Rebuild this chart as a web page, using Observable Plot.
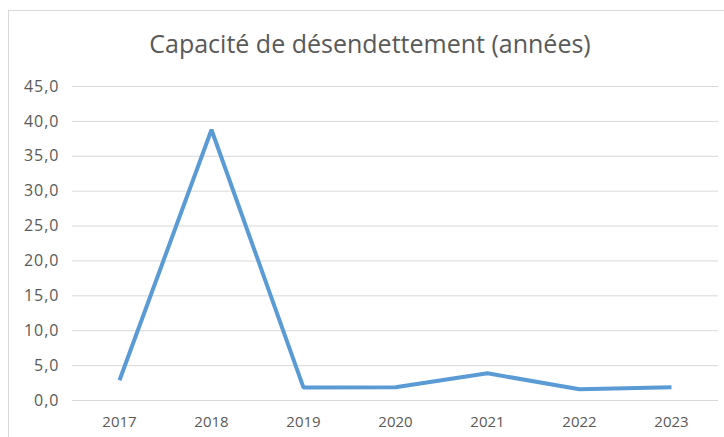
<!DOCTYPE html>
<html><head><meta charset="utf-8">
<script src="https://cdn.jsdelivr.net/npm/d3@7"></script>
<script src="https://cdn.jsdelivr.net/npm/@observablehq/plot@0.6"></script>
<style>
body{margin:0;background:#fff;font-family:"Open Sans",sans-serif;}
#wrap{position:relative;width:724px;height:437px;overflow:hidden;}
#frame{position:absolute;left:8px;top:10px;width:730px;height:440px;border:1.5px solid #d9d9d9;box-sizing:border-box;}
#title{position:absolute;left:0;top:0;width:740px;height:70px;line-height:87px;text-align:center;font-size:25px;color:#595959;font-weight:400;white-space:nowrap;}
#chart{position:absolute;left:0;top:70px;}
.yax text{letter-spacing:1px;}
</style></head>
<body><div id="wrap"><div id="frame"></div><div id="title">Capacité de désendettement (années)</div><div id="chart"></div></div>
<script>
const years = ["2017","2018","2019","2020","2021","2022","2023"];
const values = [2.9, 38.8, 1.85, 1.9, 3.9, 1.6, 1.9];
const yTicks = [0,5,10,15,20,25,30,35,40,45];
const data = years.map((y,i)=>({year:y, value:values[i]}));
const fmt = d=>d.toFixed(1).replace(".",",");
const plot = Plot.plot({
  width:724, height:367,
  marginTop:16, marginBottom:37, marginLeft:72, marginRight:6,
  style:{fontFamily:"Open Sans, sans-serif", fontSize:"16px", color:"#595959", background:"transparent"},
  x:{type:"point", domain:years, padding:0.5, label:null},
  y:{domain:[0,45], label:null},
  marks:[
    Plot.gridY(yTicks,{stroke:"#d9d9d9", strokeOpacity:1, strokeWidth:1}),
    Plot.axisY({ticks:yTicks, tickSize:0, tickPadding:13, tickFormat:fmt, label:null, fontSize:16, fill:"#595959", className:"yax"}),
    Plot.axisX({tickSize:0, tickPadding:16, label:null, fontSize:15, fill:"#595959"}),
    Plot.line(data,{x:"year", y:"value", stroke:"#5b9bd5", strokeWidth:4, strokeLinejoin:"miter", strokeLinecap:"butt"})
  ]
});
document.getElementById("chart").appendChild(plot);
</script></body></html>
